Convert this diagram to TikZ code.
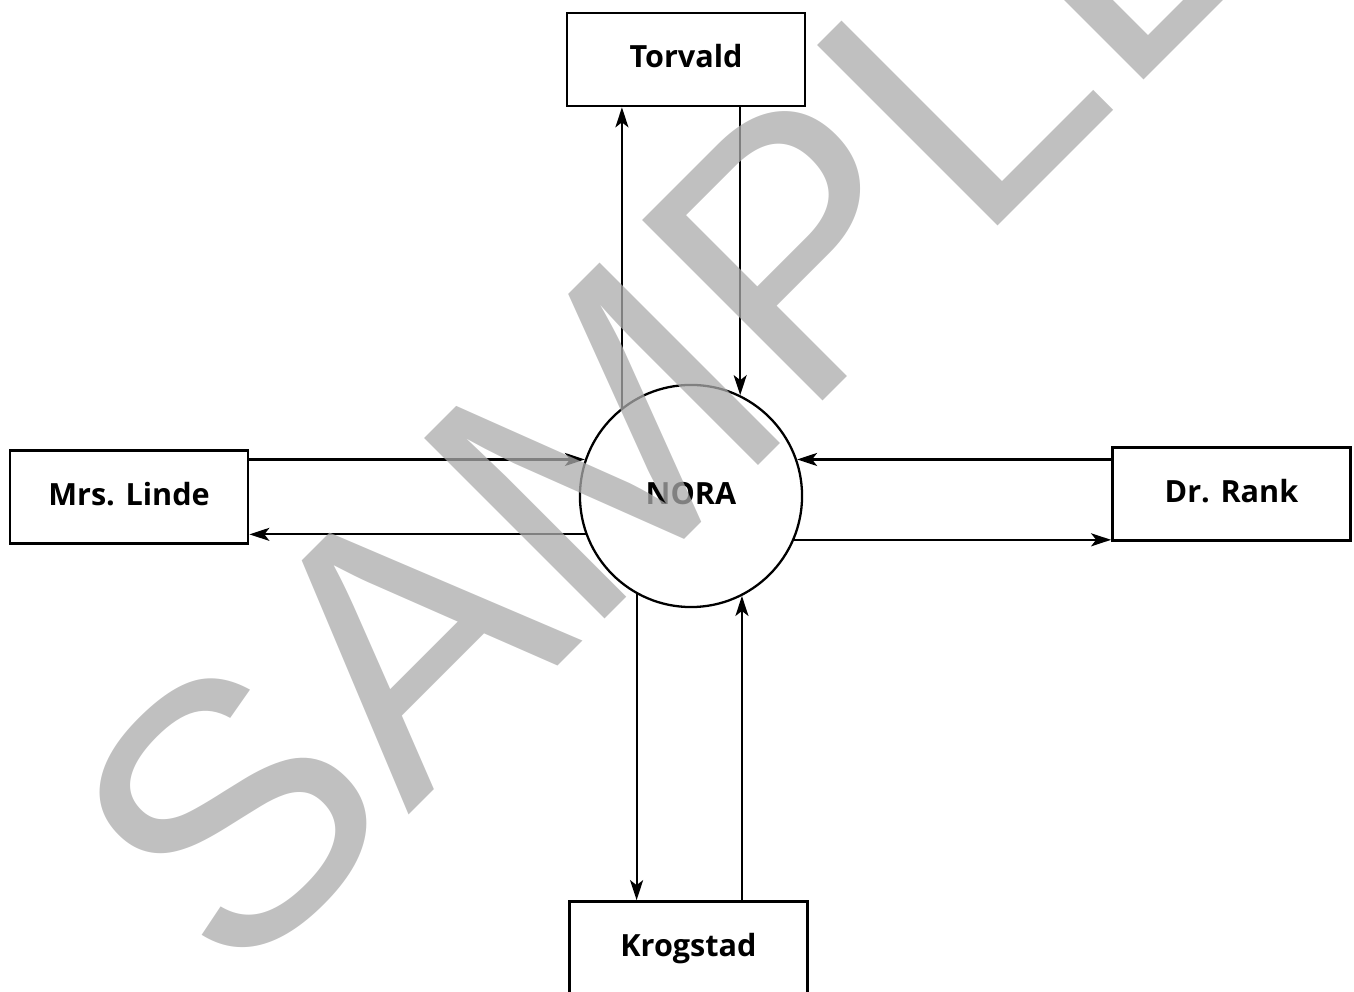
\documentclass[tikz,border=0pt]{standalone}
\usepackage{fontspec}
\setmainfont{Open Sans}
\newfontfamily\markfont{Liberation Sans}
\usetikzlibrary{arrows.meta}

\begin{document}
\begin{tikzpicture}[x=0.01cm,y=-0.01cm]
  \tikzset{person/.style={draw,line width=0.75pt,minimum width=2.38cm,minimum height=0.93cm,
      text height=6.7pt,text depth=2pt,font=\bfseries\fontsize{8.7}{10}\selectfont}}
  \tikzset{flow/.style={line width=0.6pt,-{Stealth[length=2mm,width=1.3mm,inset=0.5mm]}}}
  \useasboundingbox (0,0) rectangle (1354,992);
  \node[draw,circle,line width=0.65pt,minimum size=2.22cm,text height=6.7pt,text depth=2pt,
    font=\bfseries\fontsize{8.7}{10}\selectfont] (nora) at (691,496) {NORA};
  \node[person] (torvald) at (686,59.5) {Torvald};
  \node[person] (linde) at (129,497) {Mrs. Linde};
  \node[person] (rank) at (1231.5,494) {Dr. Rank};
  \node[person] (krogstad) at (688.5,948) {Krogstad};
  \draw[flow] (nora.128) -- (nora.128 |- torvald.south);
  \draw[flow] (nora.64 |- torvald.south) -- (nora.64);
  \draw[flow] (nora.161 -| linde.east) -- (nora.161);
  \draw[flow] (nora.200) -- (nora.200 -| linde.east);
  \draw[flow] (nora.19 -| rank.west) -- (nora.19);
  \draw[flow] (nora.337) -- (nora.337 -| rank.west);
  \draw[flow] (nora.241) -- (nora.241 |- krogstad.north);
  \draw[flow] (nora.297 |- krogstad.north) -- (nora.297);
  % watermark
  \node[rotate=45,anchor=base west,inner sep=0pt,text=black!33,text opacity=0.75,
    font=\markfont\fontsize{105.5}{120}\selectfont] (mark) at (233,991) {SAMPLE};
\end{tikzpicture}
\end{document}
